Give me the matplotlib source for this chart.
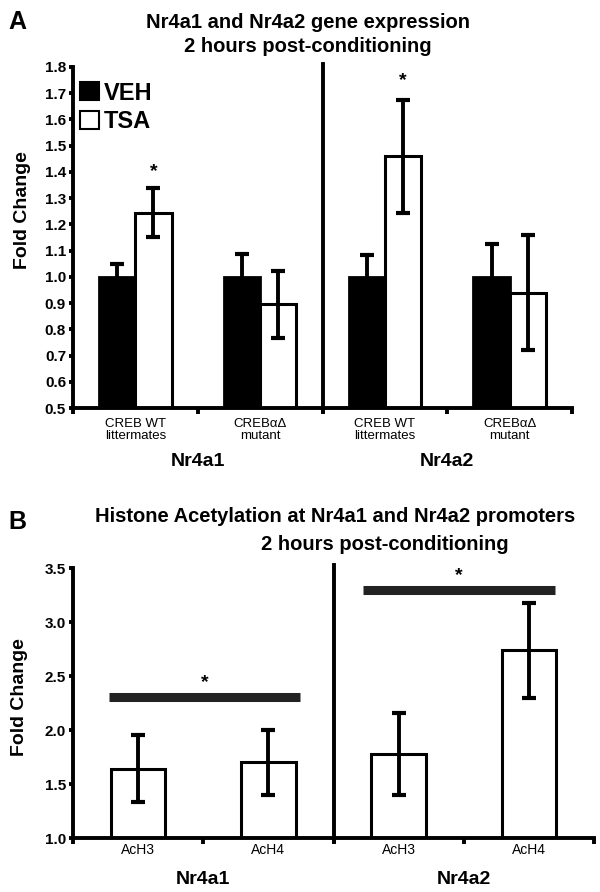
import matplotlib
matplotlib.use("Agg")
import matplotlib.pyplot as plt
from matplotlib.patches import Patch
import numpy as np

plt.rcParams['font.family'] = ['Liberation Sans', 'DejaVu Sans']

# --- data, panel A ---
geno_labels = ['CREB WT\nlittermates', 'CREB\u03b1\u0394\nmutant',
               'CREB WT\nlittermates', 'CREB\u03b1\u0394\nmutant']
gene_labels = ['Nr4a1', 'Nr4a2']
veh_mean = [1.0, 1.0, 1.0, 1.0]
veh_err = [0.05, 0.088, 0.082, 0.125]
tsa_mean = [1.245, 0.895, 1.46, 0.94]
tsa_err = [0.092, 0.127, 0.215, 0.22]
a_star_idx = [0, 2]
a_star_y = [1.40, 1.75]

# --- data, panel B ---
ach_labels = ['AcH3', 'AcH4', 'AcH3', 'AcH4']
ach_mean = [1.64, 1.70, 1.78, 2.74]
ach_err = [0.31, 0.30, 0.38, 0.44]
sig_x0 = [0.28, 2.23]
sig_x1 = [1.74, 3.70]
sig_y = [2.31, 3.30]
sig_star_y = [2.44, 3.43]

W, H = 600, 892
fig = plt.figure(figsize=(W / 100, H / 100), dpi=100)


def px_axes(x0, x1, ytop, ybot):
    return fig.add_axes([x0 / W, 1 - ybot / H, (x1 - x0) / W, (ybot - ytop) / H])


def style_axes(ax, yticks):
    for s in ['top', 'right']:
        ax.spines[s].set_visible(False)
    for s in ['left', 'bottom']:
        ax.spines[s].set_linewidth(2.8)
    ax.set_xlim(0, 4)
    ax.set_xticks([0, 1, 2, 3, 4])
    ax.set_xticklabels([])
    ax.tick_params(axis='x', direction='out', length=4, width=2.8)
    ax.set_yticks(yticks)
    ax.set_yticklabels(['%.1f' % t for t in yticks], fontsize=11, fontweight='bold')
    ax.tick_params(axis='y', direction='out', length=3, width=2.8, pad=2)
    ax.axvline(2, ymin=-0.01, ymax=1.01, color='black', lw=2.8, clip_on=False)


x = np.arange(4) + 0.5

# ---------------- Panel A ----------------
axA = px_axes(73, 572, 67, 408)
style_axes(axA, np.round(np.arange(0.5, 1.81, 0.1), 1))
axA.set_ylim(0.5, 1.8)
bw = 0.29
axA.bar(x - bw / 2, veh_mean, bw, color='black', edgecolor='black', lw=2, zorder=2)
axA.bar(x + bw / 2, tsa_mean, bw, color='white', edgecolor='black', lw=2.2, zorder=2)
axA.errorbar(x - bw / 2, veh_mean, yerr=veh_err, fmt='none', ecolor='black',
             elinewidth=2.8, capsize=5, capthick=3, zorder=3)
axA.errorbar(x + bw / 2, tsa_mean, yerr=tsa_err, fmt='none', ecolor='black',
             elinewidth=2.8, capsize=5, capthick=3, zorder=3)
for i, sy in zip(a_star_idx, a_star_y):
    axA.text(x[i] + bw / 2, sy, '*', ha='center', va='center', fontsize=14, fontweight='bold')
for xi, lab in zip(x, geno_labels):
    axA.text(xi, -0.03, lab, transform=axA.get_xaxis_transform(), ha='center', va='top',
             fontsize=9.5, linespacing=0.95)
for xi, lab in zip([1, 3], gene_labels):
    axA.text(xi, -0.158, lab, transform=axA.get_xaxis_transform(), ha='center', va='center',
             fontsize=14, fontweight='bold')
axA.legend(handles=[Patch(fc='black', ec='black', lw=1.5), Patch(fc='white', ec='black', lw=1.5)],
           labels=['VEH', 'TSA'], loc='upper left', bbox_to_anchor=(-0.005, 0.985),
           frameon=False, prop={'size': 17, 'weight': 'bold'}, handlelength=0.8,
           handleheight=0.8, handletextpad=0.2, labelspacing=0.25, borderaxespad=0)

fig.text(23 / W, 1 - 210 / H, 'Fold Change', rotation=90, ha='center', va='center',
         fontsize=14, fontweight='bold')
fig.text(17 / W, 1 - 22 / H, 'A', ha='center', va='center', fontsize=18, fontweight='bold')
fig.text(308 / W, 1 - 22 / H, 'Nr4a1 and Nr4a2 gene expression', ha='center', va='center',
         fontsize=14.5, fontweight='bold')
fig.text(308 / W, 1 - 47 / H, '2 hours post-conditioning', ha='center', va='center',
         fontsize=14.5, fontweight='bold')

# ---------------- Panel B ----------------
axB = px_axes(73, 594, 568, 838)
style_axes(axB, [1.0, 1.5, 2.0, 2.5, 3.0, 3.5])
axB.set_ylim(1.0, 3.5)
bwB = 0.42
axB.bar(x, ach_mean, bwB, color='white', edgecolor='black', lw=2.2, zorder=2)
axB.errorbar(x, ach_mean, yerr=ach_err, fmt='none', ecolor='black',
             elinewidth=2.8, capsize=5, capthick=3, zorder=3)
for x0, x1, sy, st in zip(sig_x0, sig_x1, sig_y, sig_star_y):
    axB.plot([x0, x1], [sy, sy], color='#222222', lw=6.5, solid_capstyle='butt')
    axB.text((x0 + x1) / 2, st, '*', ha='center', va='center', fontsize=14, fontweight='bold')
for xi, lab in zip(x, ach_labels):
    axB.text(xi, -0.045, lab, transform=axB.get_xaxis_transform(), ha='center', va='center',
             fontsize=10)
for xi, lab in zip([1, 3], gene_labels):
    axB.text(xi, -0.155, lab, transform=axB.get_xaxis_transform(), ha='center', va='center',
             fontsize=14, fontweight='bold')

fig.text(20 / W, 1 - 697 / H, 'Fold Change', rotation=90, ha='center', va='center',
         fontsize=14, fontweight='bold')
fig.text(17 / W, 1 - 522 / H, 'B', ha='center', va='center', fontsize=18, fontweight='bold')
fig.text(335 / W, 1 - 517 / H, 'Histone Acetylation at Nr4a1 and Nr4a2 promoters',
         ha='center', va='center', fontsize=14.5, fontweight='bold')
fig.text(385 / W, 1 - 545 / H, '2 hours post-conditioning', ha='center', va='center',
         fontsize=14.5, fontweight='bold')

fig.savefig('out.png', dpi=100)
